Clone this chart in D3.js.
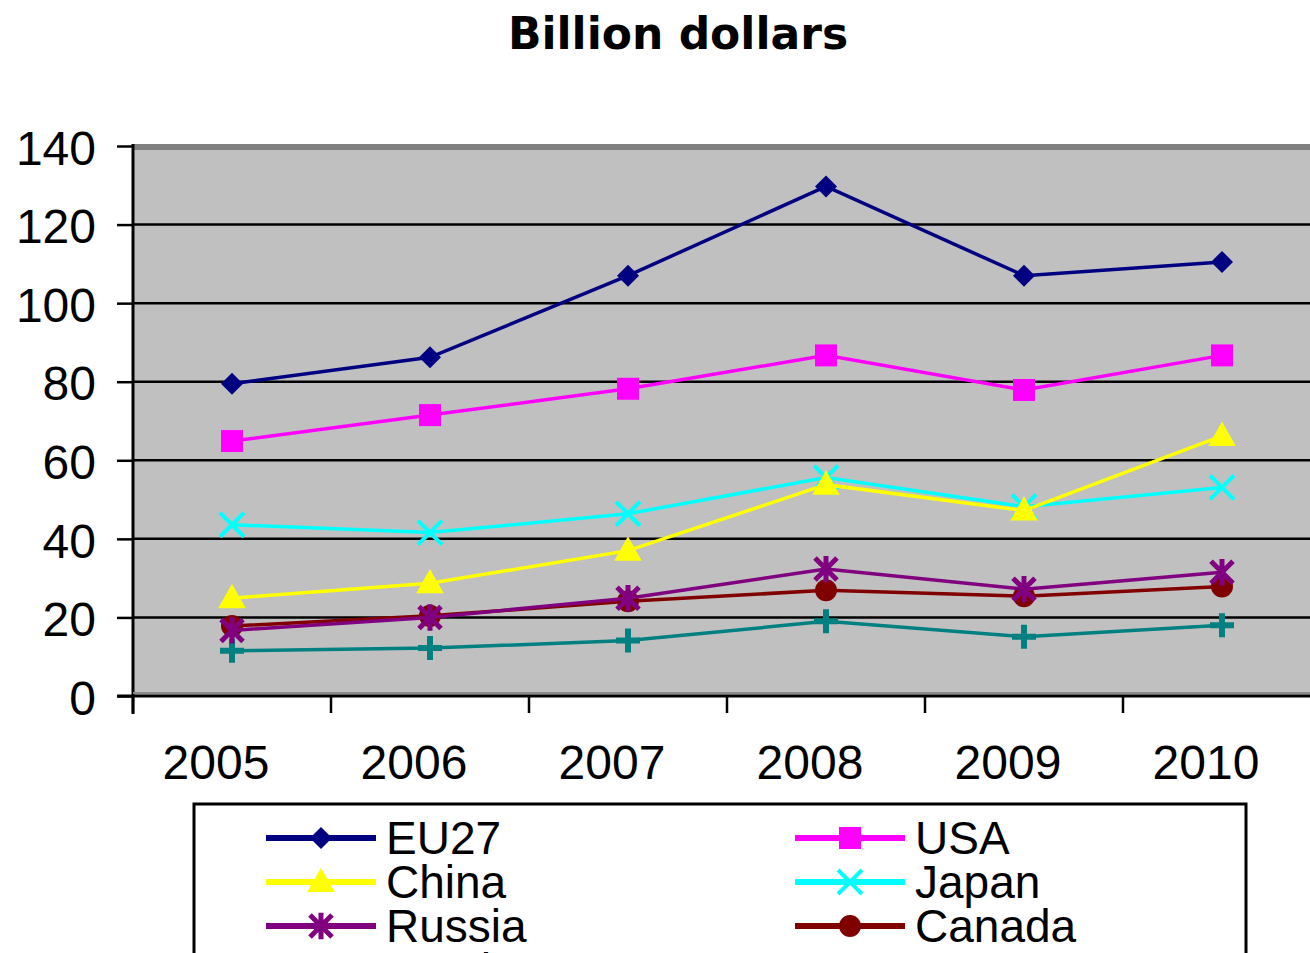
<!DOCTYPE html>
<html>
<head>
<meta charset="utf-8">
<script src="https://cdn.jsdelivr.net/npm/d3@7"></script>
<style>
  html, body { margin: 0; padding: 0; background: #fff; }
  svg { display: block; }
</style>
</head>
<body>
<svg id="chart" width="1310" height="953"></svg>
<script>
// Exports by partner, billion dollars
const years = ["2005", "2006", "2007", "2008", "2009", "2010"];
const yTicks = [0, 20, 40, 60, 80, 100, 120, 140];

const seriesNames = ["EU27", "USA", "China", "Japan", "Russia", "Canada", "South Korea"];
const eu27   = [79.5, 86.2, 107.0, 129.7, 107.0, 110.5];
const usa    = [64.9, 71.5, 78.2, 86.7, 77.9, 86.7];
const china  = [24.9, 28.7, 37.0, 53.8, 47.2, 66.2];
const japan  = [43.6, 41.6, 46.4, 55.6, 48.2, 53.1];
const russia = [16.7, 20.0, 24.9, 32.3, 27.2, 31.5];
const canada = [17.8, 20.4, 24.1, 26.9, 25.4, 27.9];
const korea  = [11.5, 12.2, 14.1, 19.0, 15.1, 18.0];

const seriesColors  = ["#000080", "#ff00ff", "#ffff00", "#00ffff", "#800080", "#800000", "#008080"];
const seriesMarkers = ["diamond", "square", "triangle", "x", "star", "circle", "plus"];

const seriesValues = [eu27, usa, china, japan, russia, canada, korea];
const series = seriesNames.map((name, i) => ({
  name, color: seriesColors[i], marker: seriesMarkers[i],
  values: seriesValues[i].map((v, j) => ({ year: years[j], value: v }))
}));

const svg = d3.select("#chart");
const W = 1310;
const plot = { left: 133, right: 1321, top: 146, bottom: 696 };
const textFont = "'Liberation Sans', Arial, sans-serif";

const x = d3.scaleBand().domain(years).range([plot.left, plot.right]);
const y = d3.scaleLinear().domain([0, 140]).range([plot.bottom, plot.top]);

// Title
svg.append("text")
  .attr("x", 678).attr("y", 49)
  .attr("text-anchor", "middle")
  .attr("font-family", "'DejaVu Sans', Verdana, sans-serif")
  .attr("font-weight", "bold")
  .attr("font-size", 44)
  .attr("fill", "#000")
  .text("Billion dollars");

// Plot area background
svg.append("rect")
  .attr("x", plot.left).attr("y", plot.top)
  .attr("width", plot.right - plot.left + 20).attr("height", plot.bottom - plot.top)
  .attr("fill", "#c0c0c0");

// Horizontal gridlines
svg.append("g").selectAll("line")
  .data(yTicks.filter(d => d > 0 && d < 140))
  .join("line")
  .attr("x1", plot.left).attr("x2", W + 20)
  .attr("y1", d => y(d)).attr("y2", d => y(d))
  .attr("stroke", "#000").attr("stroke-width", 2.5);

// Plot area top border
svg.append("line")
  .attr("x1", plot.left).attr("x2", W + 20)
  .attr("y1", y(140) + 1).attr("y2", y(140) + 1)
  .attr("stroke", "#808080").attr("stroke-width", 6);

// Y axis
const yAxis = svg.append("g")
  .attr("transform", `translate(${plot.left},0)`)
  .call(d3.axisLeft(y).tickValues(yTicks).tickSize(16).tickPadding(21));
yAxis.select(".domain").attr("stroke", "#000").attr("stroke-width", 3)
  .attr("d", `M0,${plot.top - 2}V${plot.bottom + 18}`);
yAxis.selectAll(".tick line").attr("stroke", "#000").attr("stroke-width", 2.5);
yAxis.selectAll(".tick text")
  .attr("font-family", textFont)
  .attr("font-size", 48).attr("fill", "#000")
  .attr("dy", "0.38em");

// X axis line
svg.append("line")
  .attr("x1", plot.left - 16).attr("x2", W + 20)
  .attr("y1", plot.bottom).attr("y2", plot.bottom)
  .attr("stroke", "#000").attr("stroke-width", 3);
svg.append("line")
  .attr("x1", plot.left).attr("x2", W + 20)
  .attr("y1", plot.bottom - 3).attr("y2", plot.bottom - 3)
  .attr("stroke", "#8a8a8a").attr("stroke-width", 2);

// X tick marks at category boundaries
svg.append("g").selectAll("line")
  .data(years)
  .join("line")
  .attr("x1", d => x(d)).attr("x2", d => x(d))
  .attr("y1", plot.bottom).attr("y2", plot.bottom + 17)
  .attr("stroke", "#000").attr("stroke-width", 2.5);

// X labels
svg.append("g").selectAll("text")
  .data(years)
  .join("text")
  .attr("x", d => x(d) + x.bandwidth() / 2 - 16)
  .attr("y", 779)
  .attr("text-anchor", "middle")
  .attr("font-family", textFont)
  .attr("font-size", 48)
  .attr("fill", "#000")
  .text(d => d);

// Marker shapes
function markerPath(type, s) {
  switch (type) {
    case "diamond":  return `M0,${-s}L${s},0L0,${s}L${-s},0Z`;
    case "square":   return `M${-s},${-s}H${s}V${s}H${-s}Z`;
    case "triangle": return `M0,${-s * 1.15}L${s * 1.1},${s * 0.8}L${-s * 1.1},${s * 0.8}Z`;
    case "x":        return `M${-s},${-s}L${s},${s}M${s},${-s}L${-s},${s}`;
    case "plus":     return `M${-s},0H${s}M0,${-s}V${s}`;
    case "star":     return `M${-s},${-s}L${s},${s}M${s},${-s}L${-s},${s}M0,${-s * 1.2}V${s * 1.2}`;
    default:         return "";
  }
}
const markerSize = { diamond: 11, square: 11, triangle: 12.5, x: 12, plus: 12, star: 11, circle: 11 };
const markerStroke = { x: 4, plus: 6, star: 5 };

function drawMarker(g, type, color) {
  const s = markerSize[type];
  if (type === "circle") {
    g.append("circle").attr("r", s).attr("fill", color);
  } else if (markerStroke[type]) {
    g.append("path").attr("d", markerPath(type, s))
      .attr("fill", "none").attr("stroke", color).attr("stroke-width", markerStroke[type]);
  } else {
    g.append("path").attr("d", markerPath(type, s)).attr("fill", color);
  }
}

const line = d3.line()
  .x(d => x(d.year) + x.bandwidth() / 2)
  .y(d => y(d.value));

// Draw series from last to first so EU27 sits on top
const seriesG = svg.append("g");
series.slice().reverse().forEach(s => {
  const g = seriesG.append("g");
  g.append("path")
    .datum(s.values)
    .attr("d", line)
    .attr("fill", "none")
    .attr("stroke", s.color)
    .attr("stroke-width", 3.5);
  s.values.forEach(v => {
    const m = g.append("g")
      .attr("transform", `translate(${x(v.year) + x.bandwidth() / 2},${y(v.value)})`);
    drawMarker(m, s.marker, s.color);
  });
});

// Legend
const legend = svg.append("g");
legend.append("rect")
  .attr("x", 194).attr("y", 804)
  .attr("width", 1052).attr("height", 220)
  .attr("fill", "#fff").attr("stroke", "#000").attr("stroke-width", 3);

const legendCols = [266, 795];
const legendRow0 = 838, legendRowStep = 44;
series.forEach((s, i) => {
  const col = i % 2, row = Math.floor(i / 2);
  const lx = legendCols[col], ly = legendRow0 + row * legendRowStep;
  const g = legend.append("g");
  g.append("line")
    .attr("x1", lx).attr("x2", lx + 110)
    .attr("y1", ly).attr("y2", ly)
    .attr("stroke", s.color).attr("stroke-width", 6);
  const m = g.append("g").attr("transform", `translate(${lx + 55},${ly})`);
  drawMarker(m, s.marker, s.color);
  g.append("text")
    .attr("x", lx + 120).attr("y", ly + 16)
    .attr("font-family", textFont)
    .attr("font-size", 46)
    .attr("fill", "#000")
    .text(s.name);
});
</script>
</body>
</html>
